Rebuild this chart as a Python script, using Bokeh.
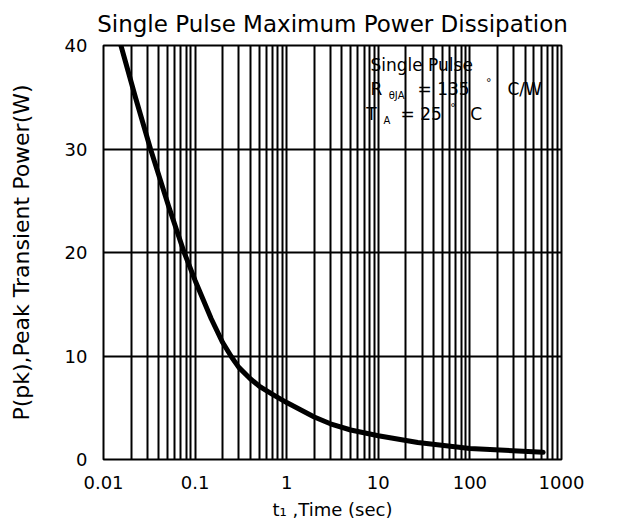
from bokeh.plotting import figure
from bokeh.models import FixedTicker, Label
from bokeh.embed import file_html
from bokeh.resources import INLINE

# ---- data ----
time_s = [0.0155, 0.0223, 0.0326, 0.0513, 0.076, 0.1, 0.15, 0.2, 0.25, 0.3, 0.4,
          0.5, 0.7, 1.0, 2.0, 3.0, 5.0, 10, 27, 100, 630]
power_w = [40.0, 35.0, 30.0, 24.5, 20.0, 17.3, 13.6, 11.3, 9.9, 8.9, 7.8,
           7.1, 6.3, 5.5, 4.1, 3.45, 2.85, 2.3, 1.65, 1.06, 0.7]

x_major = [0.01, 0.1, 1, 10, 100, 1000]
x_labels = ["0.01", "0.1", "1", "10", "100", "1000"]
y_major = [0, 10, 20, 30, 40]

# vertical grid at every 1..9 x decade
x_grid = []
for d in [0.01, 0.1, 1, 10, 100]:
    for m in range(1, 10):
        x_grid.append(round(m * d, 6))
x_grid.append(1000)

FONT = "DejaVu Sans"

p = figure(
    x_axis_type="log",
    x_range=(0.01, 1000),
    y_range=(0, 40),
    frame_width=458,
    frame_height=414,
    min_border_left=103,
    min_border_right=63,
    min_border_top=45,
    min_border_bottom=63,
    output_backend="svg",
    toolbar_location=None,
    title="Single Pulse Maximum Power Dissipation",
)
p.background_fill_color = "white"
p.border_fill_color = "white"
p.outline_line_color = "black"
p.outline_line_width = 2

p.title.align = "center"
p.title.text_font = FONT
p.title.text_font_size = "23px"
p.title.text_font_style = "normal"
p.title.text_color = "black"
p.title.standoff = 17

p.xaxis.ticker = FixedTicker(ticks=x_major)
p.xaxis.major_label_overrides = {v: s for v, s in zip(x_major, x_labels)}
p.yaxis.ticker = FixedTicker(ticks=y_major)

p.xgrid.ticker = FixedTicker(ticks=x_grid)
p.ygrid.ticker = FixedTicker(ticks=y_major)
for g in (p.xgrid, p.ygrid):
    g.grid_line_color = "black"
    g.grid_line_width = 2
    g.grid_line_alpha = 1.0

for ax in (p.xaxis, p.yaxis):
    ax.axis_line_color = None
    ax.major_tick_line_color = None
    ax.minor_tick_line_color = None
    ax.major_label_text_font = FONT
    ax.major_label_text_font_size = "18px"
    ax.major_label_text_color = "black"
    ax.major_label_standoff = 10
    ax.axis_label_text_font = FONT
    ax.axis_label_text_font_style = "normal"
    ax.axis_label_text_color = "black"

p.xaxis.axis_label = "t\u2081 ,Time (sec)"
p.xaxis.axis_label_text_font_size = "18px"
p.xaxis.axis_label_standoff = 7
p.yaxis.axis_label = "P(pk),Peak Transient Power(W)"
p.yaxis.axis_label_text_font_size = "22px"
p.yaxis.axis_label_standoff = 28

p.line(time_s, power_w, line_color="black", line_width=5, line_join="round", line_cap="round")

# annotation block
def lab(x, y, text, size="17px"):
    p.add_layout(Label(x=x, y=y, text=text, text_font=FONT, text_font_size=size,
                       text_color="black", text_baseline="middle", level="image"))

lab(8.2, 38.1, "Single Pulse")
lab(8.2, 35.8, "R")
lab(13.0, 35.2, "\u03b8JA", "10px")
lab(26.8, 35.8, "= 135")
lab(150, 36.4, "\u00b0", "11px")
lab(257, 35.8, "C/W")
lab(7.4, 33.4, "T")
lab(11.4, 32.8, "A", "10px")
lab(17.5, 33.4, "= 25")
lab(61, 34.0, "\u00b0", "11px")
lab(101, 33.4, "C")

open("out.html", "w").write(file_html(p, INLINE))
